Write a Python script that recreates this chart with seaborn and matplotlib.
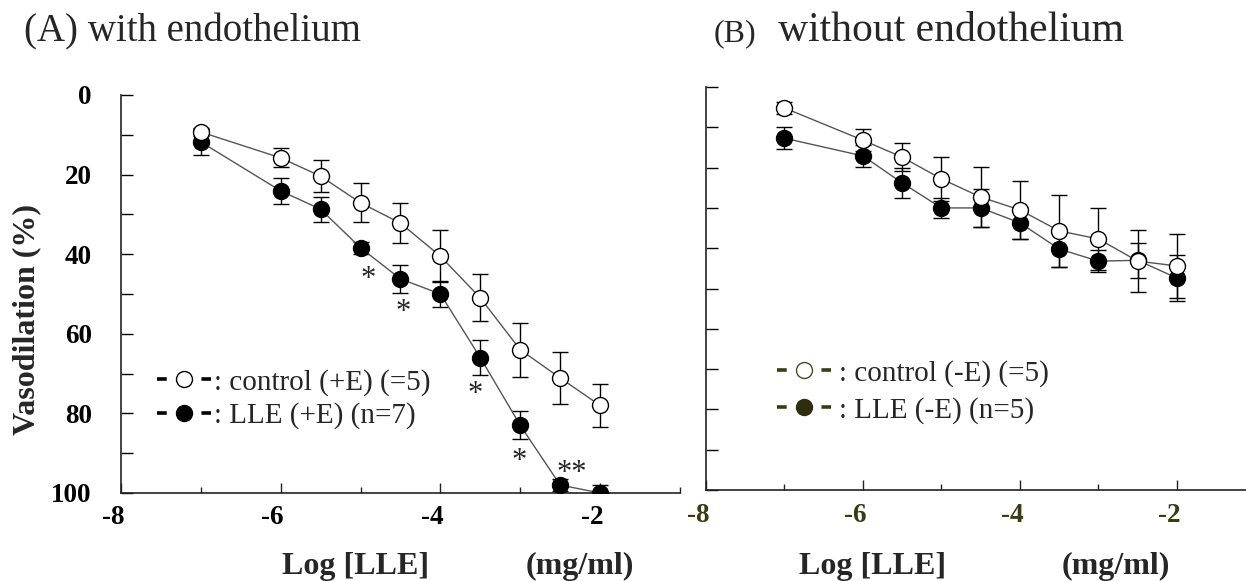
import matplotlib
matplotlib.use('Agg')
import matplotlib.pyplot as plt
import matplotlib.transforms as mtransforms
from matplotlib.lines import Line2D
from matplotlib.ticker import MultipleLocator
import seaborn as sns

log_dose = [-7, -6, -5.5, -5, -4.5, -4, -3.5, -3, -2.5, -2]

# (A) with endothelium
ctrl_a = [9.3, 15.8, 20.4, 27.1, 32.2, 40.5, 51.0, 64.0, 71.1, 78.0]
ctrl_a_err = [1.0, 2.4, 4.0, 4.9, 5.0, 6.6, 5.9, 6.8, 6.5, 5.5]
lle_a = [11.8, 24.1, 28.7, 38.4, 46.2, 50.0, 66.0, 83.0, 98.0, 100.0]
lle_a_err = [3.3, 3.3, 3.1, 1.5, 3.5, 3.3, 4.4, 3.5, 1.5, 2.0]

# significance marks in (A)
star_x = [-4.91, -4.47, -3.56, -3.01, -2.35]
star_y = [44.7, 53.0, 73.6, 90.5, 93.5]
star_txt = ['*', '*', '*', '*', '**']

# (B) without endothelium
ctrl_b = [5.2, 13.2, 17.4, 22.8, 27.3, 30.5, 35.7, 37.7, 43.2, 44.4]
ctrl_b_err = [1.5, 2.7, 3.5, 5.5, 7.4, 7.2, 8.9, 7.7, 7.7, 8.0]
lle_b = [12.7, 17.1, 23.8, 30.0, 30.0, 33.7, 40.2, 43.2, 43.0, 47.4]
lle_b_err = [2.7, 2.7, 3.7, 2.5, 4.7, 4.0, 4.5, 2.7, 4.4, 5.7]

y_ticks = [0, 20, 40, 60, 80, 100]
x_ticks = [-8, -6, -4, -2]

labels_a = [': control (+E) (=5)', ': LLE (+E) (n=7)']
labels_b = [': control (-E) (=5)', ': LLE (-E) (n=5)']

sns.set_style('ticks')
plt.rcParams['font.family'] = ['Liberation Serif', 'DejaVu Serif', 'DejaVu Sans']
plt.rcParams['lines.scale_dashes'] = False

olive = '#3b3a12'
line_c = '#555555'

fig = plt.figure(figsize=(12.46, 5.81), dpi=100)
ax_a = fig.add_axes([0.0971, 0.1515, 0.4486, 0.6850])
ax_b = fig.add_axes([0.5666, 0.1566, 0.4334, 0.6936])


def draw_pair(ax, ctrl, ctrl_err, lle, lle_err):
    ax.errorbar(log_dose, ctrl, yerr=ctrl_err, fmt='none', ecolor='black',
                elinewidth=1, capsize=5.5, capthick=1, zorder=2)
    ax.errorbar(log_dose, lle, yerr=lle_err, fmt='none', ecolor='black',
                elinewidth=1, capsize=5.5, capthick=1, zorder=2)
    sns.lineplot(x=log_dose, y=lle, ax=ax, color=line_c, lw=1, marker='o',
                 markersize=11.5, markerfacecolor='black', markeredgecolor='black',
                 markeredgewidth=1, zorder=3, legend=False)
    sns.lineplot(x=log_dose, y=ctrl, ax=ax, color=line_c, lw=1, marker='o',
                 markersize=11.5, markerfacecolor='white', markeredgecolor='black',
                 markeredgewidth=1, zorder=4, legend=False)


def style_axes(ax, xmax, tick_color, ylabels):
    ax.set_xlim(-8, xmax)
    ax.set_ylim(100, 0)
    ax.set_xticks(x_ticks)
    ax.xaxis.set_minor_locator(MultipleLocator(1))
    ax.set_yticks(y_ticks)
    ax.yaxis.set_minor_locator(MultipleLocator(10))
    ax.set_xticklabels([str(t) for t in x_ticks])
    if ylabels:
        ax.set_yticklabels([str(t) for t in y_ticks])
    else:
        ax.set_yticklabels([])
    for s in ['top', 'right']:
        ax.spines[s].set_visible(False)
    for s in ['left', 'bottom']:
        ax.spines[s].set_linewidth(1.2)
        ax.spines[s].set_color('#222222')
    ax.tick_params(axis='y', which='both', direction='in', length=8.5, width=1,
                   pad=21, labelsize=19.5, colors='black')
    ax.tick_params(axis='x', which='major', direction='in', length=7.5, width=1,
                   pad=9, labelsize=19.5)
    ax.tick_params(axis='x', which='minor', direction='in', length=4.5, width=1)
    ax.tick_params(axis='x', which='both', colors='#222222', labelcolor=tick_color)
    shift = mtransforms.ScaledTranslation(-8 / 100, 0, fig.dpi_scale_trans)
    for lab in ax.get_xticklabels():
        lab.set_fontweight('bold')
        lab.set_transform(lab.get_transform() + shift)
    for lab in ax.get_yticklabels():
        lab.set_fontweight('bold')
    ax.set_xlabel('')
    ax.set_ylabel('')


def key(face, edge, dash_c):
    return Line2D([], [], color=dash_c, lw=2.6, dashes=(7, 25), marker='o',
                  markersize=11.5, markerfacecolor=face, markeredgecolor=edge,
                  markeredgewidth=1)


draw_pair(ax_a, ctrl_a, ctrl_a_err, lle_a, lle_a_err)
draw_pair(ax_b, ctrl_b, ctrl_b_err, lle_b, lle_b_err)
style_axes(ax_a, -1.0, 'black', True)
style_axes(ax_b, -1.12, olive, False)

for sx, sy, st in zip(star_x, star_y, star_txt):
    ax_a.text(sx, sy + 3.6, st, ha='center', va='baseline', fontsize=22)

ax_a.set_ylabel('Vasodilation (%)', fontsize=23, fontweight='bold')
ax_a.yaxis.set_label_coords(-0.143, 0.435)

for ax, xl, xu, yy in [(ax_a, 0.42, 0.821, -0.2035), (ax_b, 0.309, 0.759, -0.2084)]:
    ax.text(xl, yy, 'Log [LLE]', transform=ax.transAxes, ha='center',
            va='baseline', fontsize=23, fontweight='bold')
    ax.text(xu, yy, '(mg/ml)', transform=ax.transAxes, ha='center',
            va='baseline', fontsize=23, fontweight='bold')

# legends
ax_a.legend(handles=[key('white', 'black', 'black'), key('black', 'black', 'black')],
            labels=labels_a, loc='upper left', bbox_to_anchor=(0.064, 0.3115),
            frameon=False, fontsize=21, handlelength=1.85, handletextpad=0.12,
            labelspacing=0.22, borderpad=0, borderaxespad=0)
ax_b.legend(handles=[key('white', '#4a4a20', olive), key('#2e2d0e', '#2e2d0e', olive)],
            labels=labels_b, loc='upper left', bbox_to_anchor=(0.131, 0.3226),
            frameon=False, fontsize=21, handlelength=1.85, handletextpad=0.3,
            labelspacing=0.34, borderpad=0, borderaxespad=0)

# panel titles
fig.text(24 / 1246, 0.929, '(A) with endothelium', ha='left', va='baseline',
         fontsize=28)
fig.text(714 / 1246, 0.929, '(B)', ha='left', va='baseline', fontsize=23)
fig.text(778 / 1246, 0.929, 'without endothelium', ha='left', va='baseline',
         fontsize=30)

fig.savefig('out.png', dpi=100)
